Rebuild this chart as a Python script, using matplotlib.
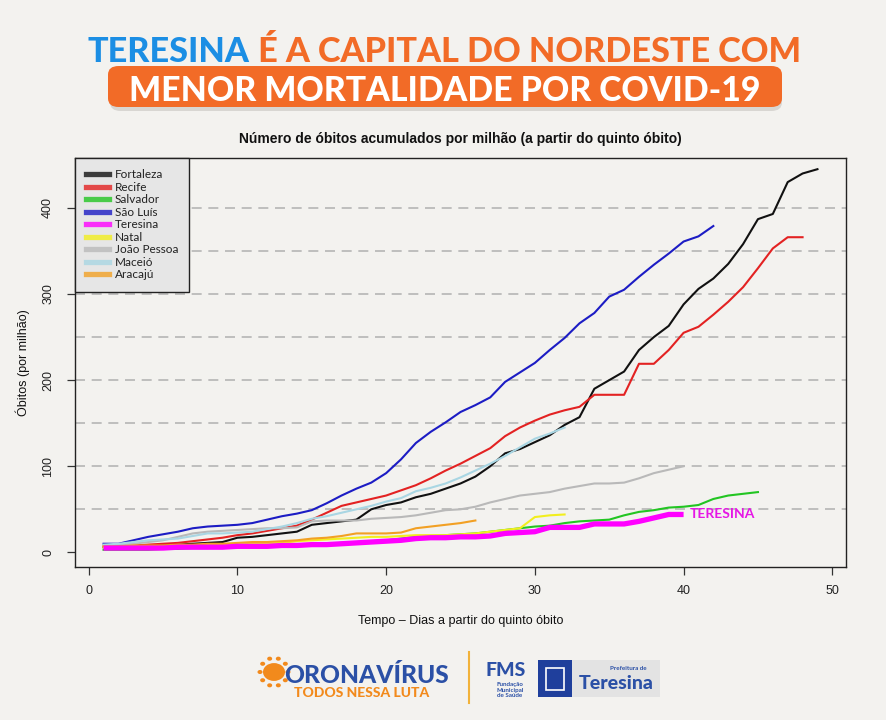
import numpy as np
import matplotlib.pyplot as plt
from matplotlib.patches import FancyBboxPatch, Rectangle, Circle
from matplotlib.lines import Line2D

# obitos acumulados por milhao, dia 1 = quinto obito
fortaleza = [6, 6, 7, 7, 8, 9, 10, 11, 12, 17, 18, 20, 22, 24, 32, 34, 36, 38, 50, 55,
             58, 64, 68, 74, 80, 88, 100, 115, 120, 128, 136, 148, 157, 190, 200, 210,
             235, 250, 263, 288, 306, 318, 335, 358, 387, 393, 430, 440, 445]
recife = [7, 8, 8, 9, 10, 11, 13, 15, 17, 20, 22, 25, 28, 31, 38, 46, 54, 58, 62, 66,
          72, 78, 86, 95, 103, 112, 121, 135, 145, 153, 160, 165, 169, 183, 183, 183,
          219, 219, 235, 255, 262, 276, 291, 308, 330, 353, 366, 366]
salvador = [3, 3, 3, 3, 4, 4, 5, 5, 6, 6, 7, 7, 8, 8, 9, 10, 11, 12, 13, 14,
            16, 18, 19, 20, 21, 22, 24, 26, 28, 30, 31, 34, 36, 37, 38, 43, 47, 49, 52,
            53, 55, 62, 66, 68, 70]
sao_luis = [10, 10, 14, 18, 21, 24, 28, 30, 31, 32, 34, 38, 42, 45, 49, 57, 66, 74, 81,
            92, 108, 127, 140, 151, 163, 171, 180, 198, 209, 220, 235, 249, 266, 278,
            297, 305, 320, 334, 347, 361, 367, 379]
teresina = [5, 5, 5, 5, 5, 6, 6, 6, 6, 7, 7, 7, 8, 8, 9, 9, 10, 11, 12, 13,
            14, 16, 17, 17, 18, 18, 19, 22, 23, 24, 29, 29, 29, 33, 33, 33, 36, 40, 44, 44]
natal = [6, 6, 7, 7, 7, 8, 8, 8, 9, 9, 10, 10, 11, 13, 14, 15, 16, 17, 18, 18,
         19, 20, 20, 20, 21, 22, 24, 26, 28, 41, 43, 44]
joao_pessoa = [8, 9, 10, 12, 14, 18, 22, 24, 25, 26, 27, 28, 28, 29, 36, 37, 37, 37, 39,
               40, 41, 43, 46, 49, 50, 53, 58, 62, 66, 68, 70, 74, 77, 80, 80, 81, 86,
               92, 96, 100]
maceio = [9, 10, 12, 14, 15, 16, 19, 22, 22, 23, 24, 27, 30, 34, 39, 42, 46, 50, 54, 59,
          63, 71, 75, 80, 87, 95, 103, 112, 122, 132, 138, 145]
aracaju = [7, 7, 8, 8, 8, 9, 9, 10, 10, 11, 12, 12, 13, 14, 16, 17, 19, 22, 22, 22,
           23, 28, 30, 32, 34, 37]

nomes = ["Fortaleza", "Recife", "Salvador", "São Luís", "Teresina", "Natal",
         "João Pessoa", "Maceió", "Aracajú"]
series = [fortaleza, recife, salvador, sao_luis, teresina, natal, joao_pessoa, maceio, aracaju]
cores = ["#111111", "#e32222", "#22c522", "#1c1cc4", "#ff00ff", "#f2ee1e",
         "#b9b9b9", "#a9d6e3", "#f2a024"]

azul = "#1b8ee4"
laranja = "#f26b27"
fundo = "#f3f2ef"

fig = plt.figure(figsize=(8.87, 7.2), dpi=100)
fig.patch.set_facecolor(fundo)
W, H = 887, 720

ax = fig.add_axes([75 / W, 1 - 567 / H, (846 - 75) / W, (567 - 158) / H])
ax.set_facecolor("none")

for y in range(50, 401, 50):
    ax.axhline(y, color="#b5b5b5", lw=1.2, ls=(0, (6, 4)), zorder=1)

for nome, vals, cor in zip(nomes, series, cores):
    dias = np.arange(1, len(vals) + 1)
    if nome == "Teresina":
        continue
    ax.plot(dias, vals, color=cor, lw=1.5, zorder=3)
dias_t = np.arange(1, len(teresina) + 1)
ax.plot(dias_t, teresina, color=cores[4], lw=3.8, zorder=4, solid_capstyle="butt")
ax.text(dias_t[-1] + 0.4, teresina[-1], "TERESINA", color="#e617e6",
        fontsize=10, fontweight="bold", family=["Lato", "DejaVu Sans"],
        va="center", ha="left", zorder=5)

ax.set_xlim(-0.92, 50.92)
ax.set_ylim(-17, 458)
ax.set_xticks(range(0, 51, 10))
ax.set_yticks(range(0, 401, 100))
ax.tick_params(axis="both", direction="out", length=6, width=0.9, color="#333333",
               labelsize=9, labelcolor="#222222")
ax.tick_params(axis="y", pad=9)
ax.tick_params(axis="x", pad=7)
for lab in ax.get_yticklabels():
    lab.set_rotation(90)
    lab.set_va("center")
for lab in ax.get_xticklabels() + ax.get_yticklabels():
    lab.set_family(["Liberation Sans", "DejaVu Sans"])
for sp in ax.spines.values():
    sp.set_color("#222222")
    sp.set_linewidth(1.0)

fonte_r = ["Liberation Sans", "DejaVu Sans"]
ax.set_title("Número de óbitos acumulados por milhão (a partir do quinto óbito)",
             fontsize=10, fontweight="bold", family=fonte_r, pad=11, color="#111111")
ax.set_xlabel("Tempo – Dias a partir do quinto óbito", fontsize=9, family=fonte_r,
              labelpad=13, color="#111111")
ax.set_ylabel("Óbitos (por milhão)", fontsize=9, family=fonte_r, labelpad=9,
              color="#111111")

handles = [Line2D([0], [0], color=c, lw=3.8, alpha=0.8) for c in cores]
leg = ax.legend(handles, nomes, loc="upper left", bbox_to_anchor=(0, 1),
                borderaxespad=0, fancybox=False, framealpha=1, facecolor="#e6e6e6",
                edgecolor="#222222", handlelength=1.9, handletextpad=0.5,
                labelspacing=0.13, borderpad=0.95,
                prop={"family": ["Lato", "DejaVu Sans"], "size": 8.5})
leg.get_frame().set_linewidth(1.0)
leg.set_zorder(10)
for t in leg.get_texts():
    t.set_color("#222222")

# cabecalho
r = fig.canvas.get_renderer()
fonte_h = ["Lato", "DejaVu Sans"]


def largura(t):
    return t.get_window_extent(r).width


t1 = fig.text(0, 1 - 62 / H, "TERESINA", color=azul, fontsize=30,
              fontweight="black", family=fonte_h, va="baseline")
t2 = fig.text(0, 1 - 62 / H, " É A CAPITAL DO NORDESTE COM", color=laranja, fontsize=30,
              fontweight="black", family=fonte_h, va="baseline")
escala = (800 - 88) / (largura(t1) + largura(t2))
t1.set_fontsize(30 * escala)
t2.set_fontsize(30 * escala)
w1 = largura(t1)
t1.set_x(88 / W)
t2.set_x((88 + w1) / W)

sombra = FancyBboxPatch((110 / W, 1 - 111 / H), 672 / W, 40 / H,
                        boxstyle="round,pad=0,rounding_size=0.012",
                        transform=fig.transFigure, facecolor="#d8d6d2",
                        edgecolor="none", zorder=0)
fig.patches.append(sombra)
caixa = FancyBboxPatch((108 / W, 1 - 107 / H), 674 / W, 41 / H,
                       boxstyle="round,pad=0,rounding_size=0.012",
                       transform=fig.transFigure, facecolor=laranja,
                       edgecolor="none", zorder=1)
fig.patches.append(caixa)
t3 = fig.text(445 / W, 1 - 101 / H, "MENOR MORTALIDADE POR COVID-19", color="white",
              fontsize=30, fontweight="black", family=fonte_h, va="baseline", ha="center")
t3.set_fontsize(30 * (760 - 130) / largura(t3))

# rodape
cx, cy = 274 / W, 1 - 672 / H
for ang in np.linspace(0, 2 * np.pi, 10, endpoint=False):
    fig.patches.append(Circle((cx + 14 * np.cos(ang) / W, cy + 14 * np.sin(ang) / H),
                              2.5 / W, transform=fig.transFigure,
                              facecolor="#f28a1c", edgecolor="none"))
fig.patches.append(Circle((cx, cy), 11 / W, transform=fig.transFigure,
                          facecolor="#f28a1c", edgecolor="none"))
t4 = fig.text(284 / W, 1 - 683 / H, "ORONAVÍRUS", color="#2b50a6", fontsize=20,
              fontweight="black", family=fonte_h, va="baseline")
t4.set_fontsize(20 * (448 - 284) / largura(t4))
fig.text(362 / W, 1 - 697 / H, "TODOS NESSA LUTA", color="#f28a1c", fontsize=10,
         fontweight="black", family=fonte_h, va="baseline", ha="center")
fig.add_artist(Line2D([469 / W, 469 / W], [1 - 652 / H, 1 - 703 / H],
                      transform=fig.transFigure, color="#f2b23a", lw=1.5))
fig.text(506 / W, 1 - 676 / H, "FMS", color="#2b50a6", fontsize=14,
         fontweight="black", family=fonte_h, va="baseline", ha="center")
fig.text(510 / W, 1 - 697 / H, "Fundação\nMunicipal\nde Saúde", color="#2b50a6",
         fontsize=4.5, fontweight="bold", family=fonte_h, va="baseline", ha="center",
         linespacing=1.1)
fig.patches.append(Rectangle((538 / W, 1 - 697 / H), 34 / W, 37 / H,
                             transform=fig.transFigure, facecolor="#1f3f9c",
                             edgecolor="none"))
fig.patches.append(Rectangle((546 / W, 1 - 690 / H), 18 / W, 22 / H,
                             transform=fig.transFigure, facecolor="none",
                             edgecolor="white", lw=1.2))
fig.patches.append(Rectangle((572 / W, 1 - 697 / H), 88 / W, 37 / H,
                             transform=fig.transFigure, facecolor="#e3e3e3",
                             edgecolor="none"))
fig.text(628 / W, 1 - 670 / H, "Prefeitura de", color="#2b50a6", fontsize=4.5,
         fontweight="bold", family=fonte_h, va="baseline", ha="center")
fig.text(616 / W, 1 - 689 / H, "Teresina", color="#2b50a6", fontsize=14,
         fontweight="black", family=fonte_h, va="baseline", ha="center")

fig.savefig("out.png", dpi=100, facecolor=fig.get_facecolor())
